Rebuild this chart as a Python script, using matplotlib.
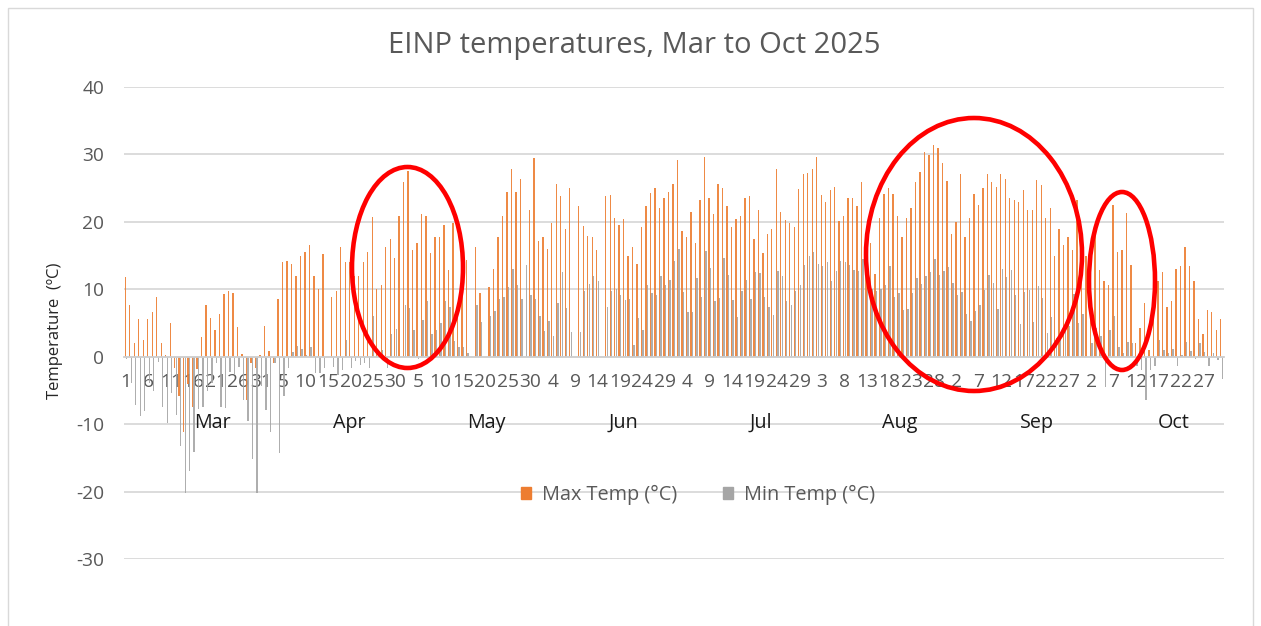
import numpy as np
import matplotlib.pyplot as plt
from matplotlib.patches import Ellipse, Patch, Rectangle

plt.rcParams['font.family'] = ['Open Sans', 'DejaVu Sans']
plt.rcParams['axes.unicode_minus'] = False

nan = np.nan

# daily values, 1 Mar to 31 Oct 2025
max_temp = [11.8, 7.7, 2.1, 5.6, 2.5, 5.6, 6.6, 8.9, 2.1, 0.3,
            5.0, -1.7, -5.9, -11.1, -4.0, -7.4, -1.8, 2.9, 7.6, 5.7,
            4.0, 6.4, 9.3, 9.8, 9.5, 4.4, 0.4, -6.4, -1.0, -1.7,
            0.3, 4.6, 0.9, -0.9, 8.6, 14.0, 14.2, 13.7, 11.9, 14.9,
            15.5, 16.5, 12.0, 10.1, 15.3, nan, 8.8, 9.7, 16.2, 14.0,
            14.0, 12.0, 11.9, 14.1, 15.5, 20.7, 10.0, 10.6, 16.2, 17.4,
            14.6, 20.8, 25.9, 27.5, 15.8, 16.8, 21.1, 20.8, 15.4, 17.8,
            17.8, 19.6, 12.9, 19.8, 8.0, 14.0, 14.4, nan, 16.2, 9.4,
            nan, 10.4, 13.0, 17.7, 20.9, 24.4, 27.9, 24.5, 26.4, nan,
            21.7, 29.4, 17.2, 17.8, 16.0, 19.9, 25.6, 23.8, 19.0, 25.0,
            nan, 22.4, 19.4, 17.9, 17.8, 15.9, nan, 23.8, 24.0, 20.6,
            19.5, 20.4, 15.0, 16.2, 13.8, 19.2, 22.3, 24.3, 25.0, 22.0,
            23.5, 24.5, 25.6, 29.2, 18.7, 17.7, 21.5, 16.8, 23.2, 29.6,
            23.5, 21.1, 25.6, 25.0, 22.3, 19.3, 20.4, 20.8, 23.5, 23.8,
            17.4, 21.8, 15.4, 18.2, 18.9, 27.9, 21.5, 20.3, 19.8, 19.3,
            24.9, 27.1, 27.2, 27.8, 29.6, 24.0, 22.9, 24.7, 25.2, 20.1,
            20.8, 23.6, 23.6, 22.3, 25.9, 18.0, 16.8, 12.3, 20.6, 24.1,
            25.0, 24.1, 20.9, 17.7, 20.5, 22.1, 25.9, 27.4, 30.3, 29.9,
            31.4, 31.0, 28.7, 26.1, 18.2, 20.0, 27.1, 17.8, 20.5, 24.1,
            22.5, 25.0, 27.1, 25.9, 25.1, 27.1, 26.4, 23.6, 23.3, 23.0,
            24.7, 21.8, 21.8, 26.2, 25.4, 20.6, 22.0, 14.9, 18.9, 16.5,
            17.8, 15.8, 23.2, 18.4, 15.0, 13.0, 18.1, 12.8, 11.3, 10.7,
            22.5, 15.5, 15.8, 21.3, 13.6, 2.1, 4.3, 7.9, 1.0, 16.5,
            11.2, 12.5, 7.3, 8.2, 13.0, 13.4, 16.3, 13.4, 11.2, 5.6,
            3.4, 7.0, 6.7, 3.9, 5.6]

min_temp = [-0.4, -3.9, -7.1, -8.8, -8.1, -3.9, -5.1, -0.8, -7.4, -9.9,
            -5.4, -8.7, -13.3, -20.2, -16.9, -14.1, -7.7, -7.4, -5.1, -3.9,
            -0.9, -7.4, -7.6, -2.2, -2.5, -1.5, -6.4, -9.6, -15.2, -20.2,
            -4.4, -7.9, -11.1, -1.0, -14.3, -5.8, -1.7, 0.7, 1.6, 1.2,
            0.2, 1.5, -2.4, -2.4, -1.7, nan, -1.5, -2.7, -2.0, 2.5,
            -1.7, -0.7, -1.2, -0.9, -1.7, 6.1, 0.5, 1.0, -1.7, 3.4,
            4.1, 0.0, 7.7, 7.2, 4.0, -0.3, 5.5, 8.3, 3.4, 4.0,
            5.0, 8.2, 7.3, 2.3, 1.5, 1.5, 0.5, nan, 7.6, 5.2,
            nan, 6.1, 6.8, 8.6, 8.9, 10.4, 13.0, 10.7, 8.6, 13.6,
            9.2, 8.6, 6.0, 3.8, 5.3, 3.1, 8.0, 12.6, 7.2, 3.6,
            nan, 3.6, 9.8, 10.8, 11.9, 11.3, nan, 7.4, 9.8, 10.1,
            9.2, 8.4, 8.6, 1.8, 5.7, 4.0, 10.7, 9.5, 9.2, 12.0,
            10.7, 11.4, 14.2, 16.0, 9.6, 6.6, 6.7, 11.6, 8.9, 15.7,
            13.2, 8.3, 8.7, 14.7, 12.1, 8.4, 5.9, 9.8, 11.4, 8.6,
            12.5, 12.4, 8.9, 7.4, 6.2, 12.7, 12.0, 8.3, 7.7, 9.7,
            10.7, 13.6, 15.0, 15.5, 13.8, 13.4, 14.0, 11.3, 12.7, 14.2,
            14.0, 13.6, 12.8, 12.7, 14.5, 12.0, 10.0, 9.7, 10.0, 10.6,
            13.4, 8.9, 9.5, 7.0, 7.1, 9.5, 11.6, 10.8, 12.0, 12.6,
            14.5, 12.1, 12.7, 13.3, 11.0, 9.2, 9.6, 6.4, 5.3, 6.8,
            7.6, 9.9, 12.1, 10.9, 7.1, 13.0, 11.8, 12.9, 9.2, 4.9,
            9.6, 9.9, 5.1, 10.5, 8.7, 3.5, 5.9, 2.8, 2.6, 4.5,
            4.6, 9.3, 5.0, 6.4, 0.0, 2.0, 4.2, 3.0, -4.5, 4.0,
            6.0, 1.5, 0.5, 2.2, 2.0, -1.4, -1.9, -6.4, -1.9, -1.4,
            2.5, 1.0, 0.5, 1.1, -1.4, 0.3, 2.2, 0.9, -0.4, 2.0,
            0.7, -1.4, 0.5, -0.5, -3.3]

months = ['Mar', 'Apr', 'May', 'Jun', 'Jul', 'Aug', 'Sep', 'Oct']
month_days = [31, 30, 31, 30, 31, 31, 30, 31]

W, H = 1261, 626
fig = plt.figure(figsize=(W / 100, H / 100), dpi=100)
ax = fig.add_axes([123.8 / W, 1 - 559 / H, 1100 / W, 472 / H])

x = np.arange(len(max_temp))
day_num = np.concatenate([np.arange(1, n + 1) for n in month_days])

ax.bar(x - 0.17, max_temp, width=0.3, color='#ED7D31', alpha=0.9)
ax.bar(x + 0.17, min_temp, width=0.3, color='#A5A5A5', alpha=0.9)

ax.set_xlim(-0.5, len(x) - 0.5)
ax.set_ylim(-30, 40)
ax.set_yticks(range(-30, 41, 10))
ax.grid(axis='y', color='#D9D9D9', lw=1.3)
ax.set_axisbelow(True)
for s in ['left', 'right', 'top']:
    ax.spines[s].set_visible(False)
ax.spines['bottom'].set_position(('data', 0))
ax.spines['bottom'].set_color('#D0D0D0')
ax.spines['bottom'].set_linewidth(1.3)

tick_idx = x[::5]
ax.set_xticks(tick_idx)
ax.set_xticklabels([str(d) for d in day_num[tick_idx]])
ax.tick_params(axis='x', length=0, pad=12, labelsize=13.8, labelcolor='#595959')
ax.tick_params(axis='y', length=0, pad=14, labelsize=13.8, labelcolor='#595959')

# month labels under the day numbers
start = 0
for name, n in zip(months, month_days):
    ax.text(start + (n - 1) / 2 + 4.3, -9.8, name, ha='center', va='center',
            fontsize=14.2, color='#1a1a1a')
    start += n

fig.text(634 / W, 1 - 45 / H, 'EINP temperatures, Mar to Oct 2025',
         ha='center', va='center', fontsize=21, color='#595959')
fig.text(55 / W, 1 - 331 / H, 'Temperature  (ºC)', rotation=90,
         ha='center', va='center', fontsize=12, color='#262626')

handles = [Patch(color='#ED7D31'), Patch(color='#A5A5A5')]
fig.legend(handles, ['Max Temp (°C)', 'Min Temp (°C)'], loc='center',
           bbox_to_anchor=(698 / W, 1 - 495 / H), ncol=2, frameon=False,
           fontsize=14.3, labelcolor='#595959', handlelength=0.5,
           handleheight=0.5, handletextpad=0.55, columnspacing=2.3)

# red rings drawn over the chart
rings = [(407.5, 267.5, 111, 201), (974, 254.5, 216, 273), (1122, 281, 66, 178)]
for cx, cy, w, h in rings:
    fig.add_artist(Ellipse((cx / W, 1 - cy / H), w / W, h / H,
                           transform=fig.transFigure, fill=False,
                           edgecolor='#FF0000', lw=3.3))

fig.add_artist(Rectangle((8 / W, -0.1), 1245 / W, 1 - 8 / H + 0.1,
                         transform=fig.transFigure, fill=False,
                         edgecolor='#D9D9D9', lw=1))

fig.savefig('out.png', dpi=100)
